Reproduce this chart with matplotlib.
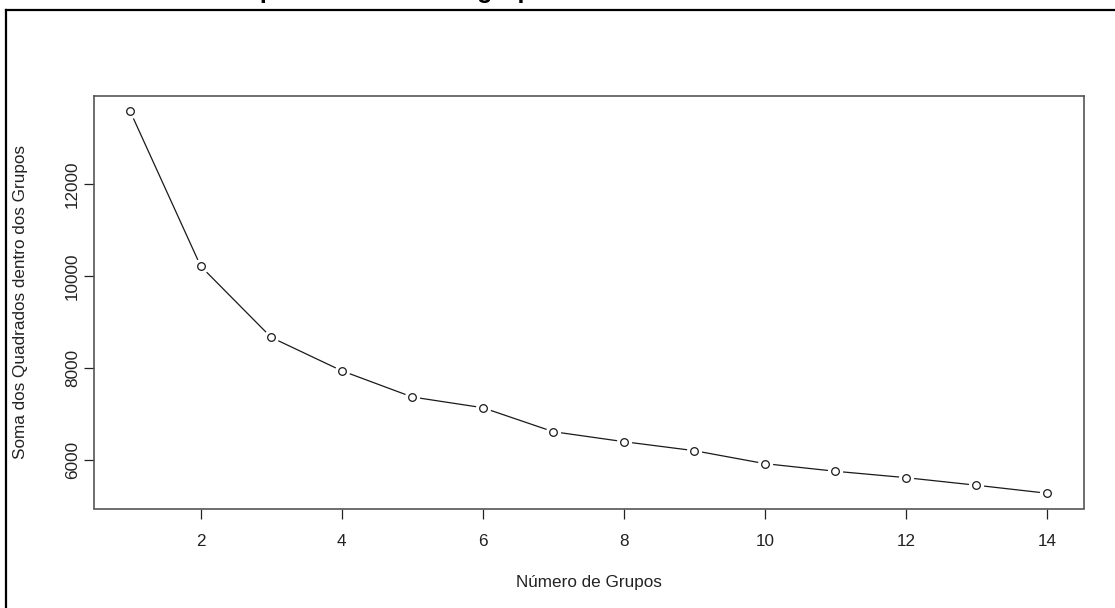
import matplotlib
matplotlib.use('Agg')
import matplotlib.pyplot as plt
from matplotlib.lines import Line2D

# dados (método do cotovelo)
grupos = [1, 2, 3, 4, 5, 6, 7, 8, 9, 10, 11, 12, 13, 14]
soma_quadrados = [13587, 10217, 8667, 7941, 7370, 7137, 6615,
                  6398, 6202, 5920, 5754, 5615, 5450, 5276]
x_ticks = [2, 4, 6, 8, 10, 12, 14]
y_ticks = [6000, 8000, 10000, 12000]
titulo = 'Método do cotovelo para o número de grupos'

W, H = 1115, 608
plt.rcParams['font.family'] = ['Liberation Sans', 'DejaVu Sans']

fig = plt.figure(figsize=(W / 100, H / 100), dpi=100)
fig.patch.set_facecolor('white')

# moldura do documento (só esquerda e topo visíveis)
fig.add_artist(Line2D([6 / W, 6 / W], [0, 1 - 10 / H], transform=fig.transFigure,
                      color='black', lw=1.6))
fig.add_artist(Line2D([6 / W, 1], [1 - 10 / H, 1 - 10 / H], transform=fig.transFigure,
                      color='black', lw=1.6))
# título cortado no topo da imagem
fig.text(16 / W, 1 + 2 / H, titulo, fontsize=18, fontweight='bold',
         va='baseline', ha='left', color='black')

left, right, top, bottom = 93.5, 1083.5, 96, 508.5
ax = fig.add_axes([left / W, (H - bottom) / H, (right - left) / W, (bottom - top) / H])

ax.plot(grupos, soma_quadrados, color='#1a1a1a', lw=0.9, zorder=2)
# espaço em volta dos pontos (type = "b" do R)
ax.plot(grupos, soma_quadrados, linestyle='none', marker='o', markersize=11,
        markerfacecolor='white', markeredgecolor='none', zorder=3)
ax.plot(grupos, soma_quadrados, linestyle='none', marker='o', markersize=5.5,
        markerfacecolor='white', markeredgecolor='#1a1a1a', markeredgewidth=0.9, zorder=4)

# limites como no R (4% de folga)
xr = grupos[-1] - grupos[0]
ax.set_xlim(grupos[0] - 0.04 * xr, grupos[-1] + 0.04 * xr)
yr = max(soma_quadrados) - min(soma_quadrados)
ax.set_ylim(min(soma_quadrados) - 0.04 * yr, max(soma_quadrados) + 0.04 * yr)

ax.set_xticks(x_ticks)
ax.set_yticks(y_ticks)
ax.set_xticklabels([str(v) for v in x_ticks])
ax.set_yticklabels([str(v) for v in y_ticks])

for s in ax.spines.values():
    s.set_color('#555555')
    s.set_linewidth(1.2)

ax.tick_params(axis='both', direction='out', length=7.2, width=0.9, color='#222222',
               labelsize=12.3, labelcolor='#222222')
ax.tick_params(axis='x', pad=11.5)
ax.tick_params(axis='y', pad=2.5)
for lab in ax.get_yticklabels():
    lab.set_rotation(90)
    lab.set_va('center')

ax.set_xlabel('Número de Grupos', fontsize=12.3, color='#222222', va='center')
ax.set_ylabel('Soma dos Quadrados dentro dos Grupos', fontsize=12.3, color='#222222', va='center')
ax.xaxis.set_label_coords(0.5, (bottom - 583) / (bottom - top))
ax.yaxis.set_label_coords((21 - left) / (right - left), 0.5)

fig.savefig('out.png', dpi=100)
